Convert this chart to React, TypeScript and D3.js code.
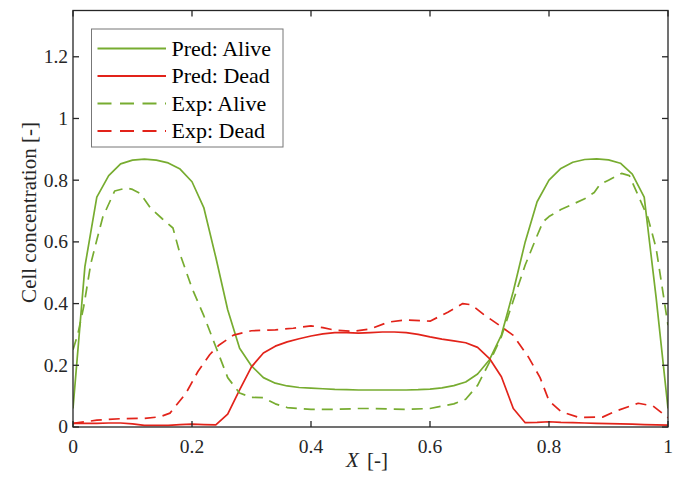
import React from 'react';
import * as d3 from 'd3';

// x positions (shared by the two model curves)
const predX = d3.range(0, 51).map(i => i / 50);

const predAlive = [
  0.06, 0.52, 0.745, 0.815, 0.853, 0.865, 0.868, 0.865, 0.856, 0.836,
  0.795, 0.71, 0.55, 0.38, 0.255, 0.198, 0.16, 0.142, 0.133, 0.128,
  0.126, 0.124, 0.122, 0.121, 0.12, 0.12, 0.12, 0.12, 0.12, 0.121,
  0.123, 0.127, 0.134, 0.146, 0.172, 0.218, 0.298, 0.44, 0.6, 0.73,
  0.8, 0.838, 0.858, 0.867, 0.869, 0.866, 0.855, 0.82, 0.745, 0.42,
  0.06,
];

const predDead = [
  0.012, 0.012, 0.012, 0.013, 0.013, 0.01, 0.005, 0.005, 0.005, 0.008,
  0.009, 0.008, 0.007, 0.042, 0.12, 0.195, 0.24, 0.262, 0.276, 0.286,
  0.295, 0.302, 0.306, 0.306, 0.304, 0.306, 0.308, 0.308, 0.306, 0.3,
  0.292, 0.285, 0.279, 0.273, 0.258, 0.222, 0.163, 0.06, 0.014, 0.015,
  0.017, 0.015, 0.014, 0.013, 0.012, 0.011, 0.01, 0.009, 0.008, 0.007,
  0.006,
];

const expAliveX = [
  0, 0.008, 0.018, 0.03, 0.04, 0.05, 0.07, 0.09, 0.1, 0.113, 0.13, 0.15, 0.168,
  0.18, 0.2, 0.22, 0.24, 0.26, 0.28, 0.3, 0.32, 0.34, 0.36, 0.4, 0.44, 0.48,
  0.5, 0.54, 0.56, 0.6, 0.64, 0.66, 0.68, 0.7, 0.72, 0.74, 0.76, 0.78, 0.79,
  0.8, 0.82, 0.84, 0.86, 0.876, 0.885, 0.9, 0.922, 0.935, 0.95, 0.966, 0.98, 1,
];
const expAlive = [
  0.25, 0.3, 0.39, 0.53, 0.606, 0.68, 0.765, 0.775, 0.77, 0.757, 0.71, 0.675, 0.645,
  0.56, 0.45, 0.36, 0.26, 0.16, 0.11, 0.096, 0.095, 0.075, 0.063, 0.057, 0.057, 0.06,
  0.06, 0.058, 0.057, 0.06, 0.075, 0.09, 0.135, 0.21, 0.293, 0.41, 0.525, 0.62, 0.665,
  0.682, 0.705, 0.722, 0.74, 0.76, 0.785, 0.8, 0.822, 0.815, 0.75, 0.68, 0.58, 0.33,
];

const expDeadX = [
  0, 0.04, 0.08, 0.12, 0.146, 0.163, 0.19, 0.21, 0.23, 0.245, 0.27, 0.3, 0.34,
  0.37, 0.4, 0.42, 0.44, 0.47, 0.5, 0.53, 0.56, 0.6, 0.63, 0.655, 0.67, 0.69,
  0.72, 0.74, 0.765, 0.785, 0.8, 0.82, 0.85, 0.89, 0.91, 0.95, 0.975, 1,
];
const expDead = [
  0.012, 0.022, 0.027, 0.028, 0.033, 0.045, 0.11, 0.18, 0.235, 0.265, 0.298, 0.312, 0.315,
  0.32, 0.328, 0.322, 0.314, 0.31, 0.318, 0.34, 0.347, 0.343, 0.372, 0.4, 0.396, 0.365,
  0.325, 0.297, 0.228, 0.16, 0.085, 0.05, 0.031, 0.032, 0.05, 0.077, 0.068, 0.03,
];

const xTicks = [0, 0.2, 0.4, 0.6, 0.8, 1];
const yTicks = [0, 0.2, 0.4, 0.6, 0.8, 1, 1.2];

const legendLabels = ['Pred: Alive', 'Pred: Dead', 'Exp: Alive', 'Exp: Dead'];

const GREEN = '#77AC30';
const RED = '#E2231A';
const AXIS = '#262626';
const FONT = "'Liberation Serif', 'Times New Roman', serif";

const App = () => {
  const W = 678;
  const H = 481;
  const margin = { top: 10.5, right: 10, bottom: 54, left: 73 };
  const width = W - margin.left - margin.right;
  const height = H - margin.top - margin.bottom;

  const x = d3.scaleLinear().domain([0, 1]).range([0, width]);
  const y = d3.scaleLinear().domain([0, 1.35]).range([height, 0]);

  const line = d3.line<[number, number]>()
    .x(d => x(d[0]))
    .y(d => y(d[1]));

  const series = [
    { xs: predX, ys: predAlive, color: GREEN, dash: undefined },
    { xs: predX, ys: predDead, color: RED, dash: undefined },
    { xs: expAliveX, ys: expAlive, color: GREEN, dash: '11,7' },
    { xs: expDeadX, ys: expDead, color: RED, dash: '11,7' },
  ];

  const fmt = (v: number) => (v === 0 || v === 1 ? String(v) : d3.format('.1f')(v));
  const tick = 6;

  return (
    <svg width={W} height={H} style={{ position: 'absolute', left: 0, top: 0, background: '#fff' }}>
      <defs>
        <clipPath id="plotclip">
          <rect x={0} y={0} width={width} height={height} />
        </clipPath>
      </defs>
      <g transform={`translate(${margin.left},${margin.top})`} fontFamily={FONT}>
        <g clipPath="url(#plotclip)">
          {series.map((s, i) => (
            <path
              key={i}
              d={line(s.xs.map((v, j) => [v, s.ys[j]] as [number, number])) || ''}
              fill="none"
              stroke={s.color}
              strokeWidth={1.7}
              strokeDasharray={s.dash}
              strokeLinejoin="round"
            />
          ))}
        </g>

        {/* frame */}
        <rect x={0} y={0} width={width} height={height} fill="none" stroke={AXIS} strokeWidth={1.3} />

        {/* x ticks */}
        {xTicks.map(t => (
          <g key={`x${t}`}>
            <line x1={x(t)} x2={x(t)} y1={height} y2={height - tick} stroke={AXIS} strokeWidth={1.3} />
            <line x1={x(t)} x2={x(t)} y1={0} y2={tick} stroke={AXIS} strokeWidth={1.3} />
            <text x={x(t)} y={height + 25.5} textAnchor="middle" fontSize={19.5} fill={AXIS}>
              {fmt(t)}
            </text>
          </g>
        ))}

        {/* y ticks */}
        {yTicks.map(t => (
          <g key={`y${t}`}>
            <line x1={0} x2={tick} y1={y(t)} y2={y(t)} stroke={AXIS} strokeWidth={1.3} />
            <line x1={width} x2={width - tick} y1={y(t)} y2={y(t)} stroke={AXIS} strokeWidth={1.3} />
            <text x={-5} y={y(t)} dy="0.33em" textAnchor="end" fontSize={19.5} fill={AXIS}>
              {fmt(t)}
            </text>
          </g>
        ))}

        {/* axis labels */}
        <text
          transform={`translate(${36 - margin.left},${212.5 - margin.top}) rotate(-90)`}
          textAnchor="middle"
          fontSize={21}
          fill={AXIS}
        >
          Cell concentration [-]
        </text>
        <text x={367 - margin.left} y={467 - margin.top} textAnchor="middle" fontSize={21} fill={AXIS}>
          <tspan fontStyle="italic">X</tspan>
          <tspan dx={8}>[-]</tspan>
        </text>

        {/* legend */}
        <g transform={`translate(${91.5 - margin.left},${29 - margin.top})`}>
          <rect x={0} y={0} width={191.5} height={118} fill="#fff" stroke="#777" strokeWidth={1} />
          {legendLabels.map((lab, i) => {
            const s = series[i];
            const cy = 19.5 + i * 27.5;
            return (
              <g key={lab}>
                <line x1={6} x2={74.5} y1={cy} y2={cy} stroke={s.color} strokeWidth={1.8} strokeDasharray={s.dash ? '14,8.5' : undefined} />
                <text x={80} y={cy} dy="0.33em" fontSize={22} fill="#000">
                  {lab}
                </text>
              </g>
            );
          })}
        </g>
      </g>
    </svg>
  );
};

export default App;
